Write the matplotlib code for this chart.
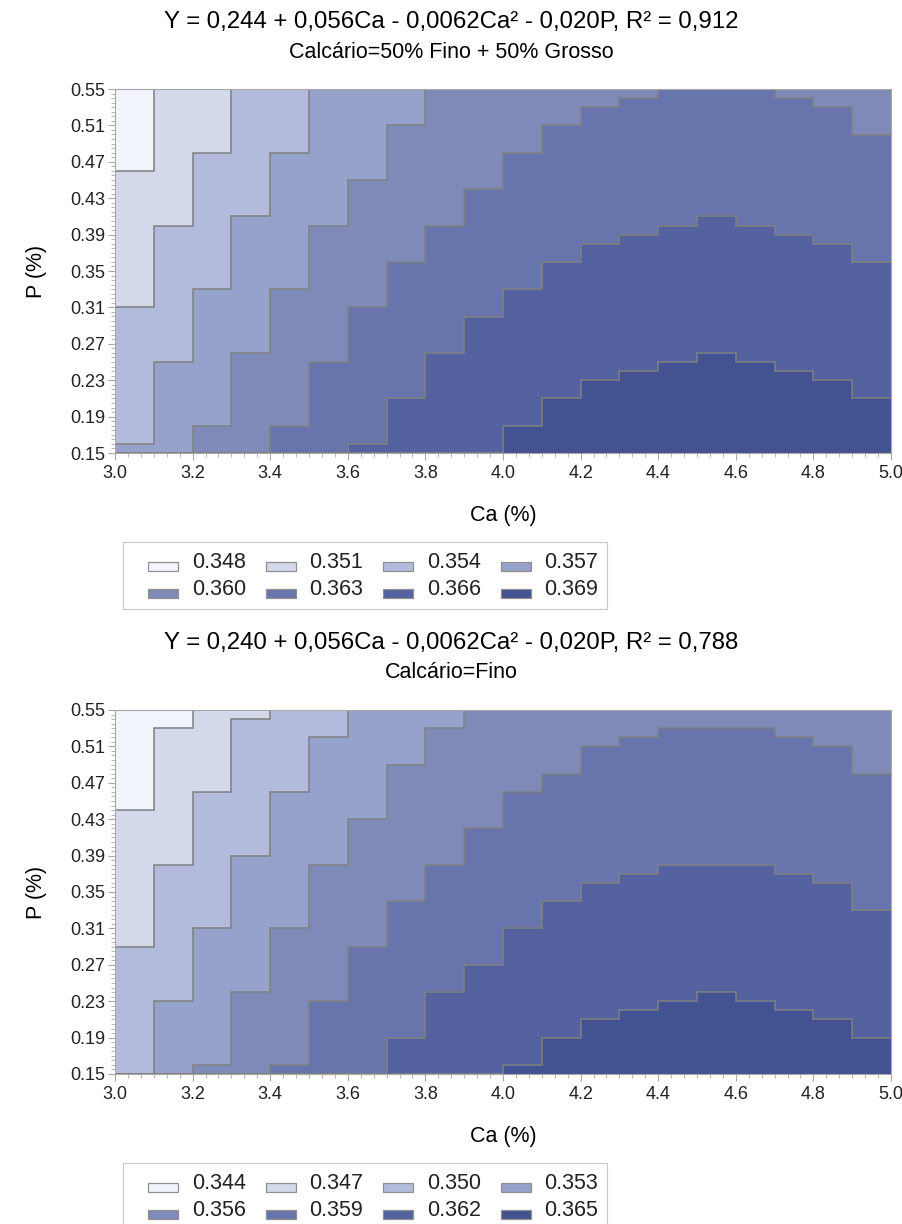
import matplotlib
matplotlib.use("Agg")
import matplotlib.pyplot as plt
from matplotlib.patches import Rectangle
from matplotlib.ticker import AutoMinorLocator
import numpy as np

plt.rcParams["font.family"] = ["Liberation Sans", "DejaVu Sans"]

# Ca grid columns (left/right edges of each 0.1 step)
ca_edges = [3.0, 3.1, 3.2, 3.3, 3.4, 3.5, 3.6, 3.7, 3.8, 3.9, 4.0,
            4.1, 4.2, 4.3, 4.4, 4.5, 4.6, 4.7, 4.8, 4.9, 5.0]
x_ticks = [3.0, 3.2, 3.4, 3.6, 3.8, 4.0, 4.2, 4.4, 4.6, 4.8, 5.0]
y_ticks = [0.15, 0.19, 0.23, 0.27, 0.31, 0.35, 0.39, 0.43, 0.47, 0.51, 0.55]

# panel 1: Calcario = 50% Fino + 50% Grosso
title_50 = "Y = 0,244 + 0,056Ca - 0,0062Ca² - 0,020P, R² = 0,912"
sub_50 = "Calcário=50% Fino + 50% Grosso"
levels_50 = ["0.348", "0.351", "0.354", "0.357", "0.360", "0.363", "0.366", "0.369"]
# P value of each contour step per Ca column (light -> dark)
b1_50 = [0.46] + [0.55] * 19
b2_50 = [0.31, 0.40, 0.48] + [0.55] * 17
b3_50 = [0.16, 0.25, 0.33, 0.41, 0.48] + [0.55] * 15
b4_50 = [0.15, 0.15, 0.18, 0.26, 0.33, 0.40, 0.45, 0.51] + [0.55] * 12
b5_50 = [0.15] * 4 + [0.18, 0.25, 0.31, 0.36, 0.40, 0.44, 0.48, 0.51, 0.53,
                      0.54, 0.55, 0.55, 0.55, 0.54, 0.53, 0.50]
b6_50 = [0.15] * 6 + [0.16, 0.21, 0.26, 0.30, 0.33, 0.36, 0.38, 0.39, 0.40,
                      0.41, 0.40, 0.39, 0.38, 0.36]
b7_50 = [0.15] * 10 + [0.18, 0.21, 0.23, 0.24, 0.25, 0.26, 0.25, 0.24, 0.23, 0.21]

# panel 2: Calcario = Fino
title_f = "Y = 0,240 + 0,056Ca - 0,0062Ca² - 0,020P, R² = 0,788"
sub_f = "Calcário=Fino"
levels_f = ["0.344", "0.347", "0.350", "0.353", "0.356", "0.359", "0.362", "0.365"]
b1_f = [0.44, 0.53] + [0.55] * 18
b2_f = [0.29, 0.38, 0.46, 0.54] + [0.55] * 16
b3_f = [0.15, 0.23, 0.31, 0.39, 0.46, 0.52] + [0.55] * 14
b4_f = [0.15, 0.15, 0.16, 0.24, 0.31, 0.38, 0.43, 0.49, 0.53] + [0.55] * 11
b5_f = [0.15] * 4 + [0.16, 0.23, 0.29, 0.34, 0.38, 0.42, 0.46, 0.48, 0.51,
                     0.52, 0.53, 0.53, 0.53, 0.52, 0.51, 0.48]
b6_f = [0.15] * 7 + [0.19, 0.24, 0.27, 0.31, 0.34, 0.36, 0.37, 0.38, 0.38,
                     0.38, 0.37, 0.36, 0.33]
b7_f = [0.15] * 10 + [0.16, 0.19, 0.21, 0.22, 0.23, 0.24, 0.23, 0.22, 0.21, 0.19]

colors = ["#f1f4fb", "#d3d8eb", "#b3bbdc", "#96a2cb",
          "#7f8ab9", "#6875ad", "#5463a0", "#435290"]
line_col = "#808080"
axis_col = "#a8a8a8"
W, H = 902, 1224
DY = 621  # vertical offset of the second panel (px)


def draw_panel(ax, bounds):
    n = len(ca_edges) - 1
    uppers = [[0.55] * n] + bounds
    lowers = bounds + [[0.15] * n]
    for up, lo, c in zip(uppers, lowers, colors):
        ax.stairs(up, ca_edges, baseline=lo, fill=True, color=c, lw=0, zorder=1)
    for b in bounds:
        ax.stairs(b, ca_edges, baseline=None, color=line_col, lw=1.1, zorder=2)
    ax.set_xlim(3.0, 5.0)
    ax.set_ylim(0.15, 0.55)
    ax.set_xticks(x_ticks)
    ax.set_xticklabels(["%.1f" % v for v in x_ticks])
    ax.set_yticks(y_ticks)
    ax.set_yticklabels(["%.2f" % v for v in y_ticks])
    ax.xaxis.set_minor_locator(AutoMinorLocator(6))
    ax.yaxis.set_minor_locator(AutoMinorLocator(8))
    ax.tick_params(which="both", direction="out", color=axis_col,
                   labelsize=13, labelcolor="#222222")
    ax.tick_params(which="major", length=5)
    ax.tick_params(which="minor", length=3)
    ax.tick_params(axis="y", which="major", pad=2)
    for s in ax.spines.values():
        s.set_color(axis_col)
        s.set_zorder(3)
    ax.set_xlabel("Ca (%)", fontsize=15.5, labelpad=17)
    ax.set_ylabel("P (%)", fontsize=15.5, labelpad=17)


def draw_legend(fig, top_px, labels):
    box_w, box_h = 484, 67
    lax = fig.add_axes([123 / W, 1 - (top_px + box_h) / H, box_w / W, box_h / H])
    lax.set_xlim(0, box_w)
    lax.set_ylim(box_h, 0)
    lax.set_xticks([])
    lax.set_yticks([])
    for s in lax.spines.values():
        s.set_color("#c8c8c8")
    for i, (lab, c) in enumerate(zip(labels, colors)):
        row, col = divmod(i, 4)
        x0 = 25 + col * 117.5
        yc = 20.5 + row * 27
        lax.add_patch(Rectangle((x0, yc - 1), 30, 9, facecolor=c,
                                edgecolor="#909090", lw=0.9))
        lax.text(x0 + 44, yc, lab, fontsize=15.5, va="center", ha="left",
                 color="#222222")


fig = plt.figure(figsize=(W / 100, H / 100), dpi=100)

ax1 = fig.add_axes([115 / W, 1 - 453 / H, 776 / W, 364 / H])
draw_panel(ax1, [b1_50, b2_50, b3_50, b4_50, b5_50, b6_50, b7_50])
fig.text(0.5, 1 - 22 / H, title_50, ha="center", va="center", fontsize=17.3)
fig.text(0.5, 1 - 52 / H, sub_50, ha="center", va="center", fontsize=15.5)
draw_legend(fig, 542, levels_50)

ax2 = fig.add_axes([115 / W, 1 - (453 + DY) / H, 776 / W, 364 / H])
draw_panel(ax2, [b1_f, b2_f, b3_f, b4_f, b5_f, b6_f, b7_f])
fig.text(0.5, 1 - (22 + DY) / H, title_f, ha="center", va="center", fontsize=17.3)
fig.text(0.5, 1 - (52 + DY) / H, sub_f, ha="center", va="center", fontsize=15.5)
draw_legend(fig, 542 + DY, levels_f)

fig.savefig("out.png", dpi=100)
